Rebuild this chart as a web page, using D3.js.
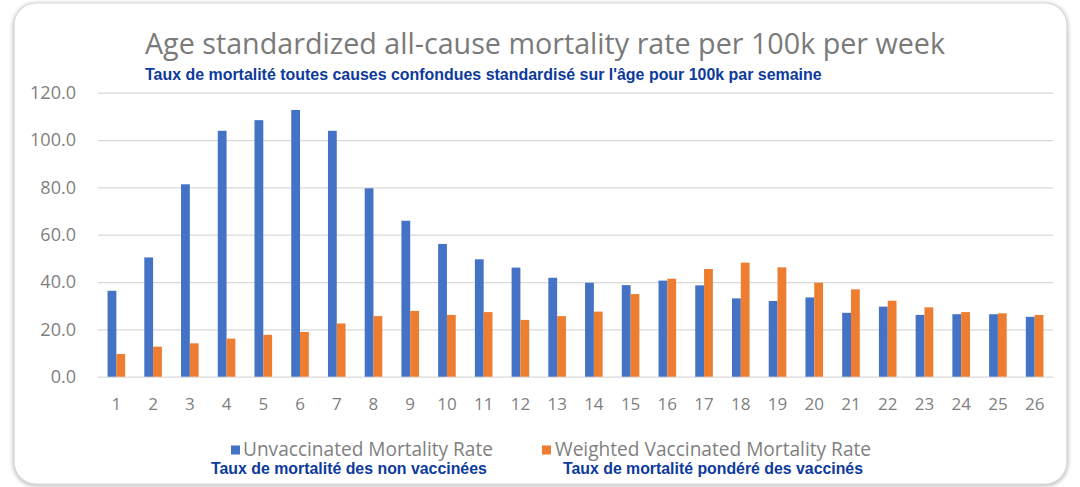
<!DOCTYPE html>
<html>
<head>
<meta charset="utf-8">
<script src="https://cdn.jsdelivr.net/npm/d3@7/dist/d3.min.js"></script>
<style>
  html, body { margin: 0; padding: 0; background: #ffffff; }
  svg { display: block; }
</style>
</head>
<body>
<svg id="chart" width="1080" height="487"></svg>
<script>
// Weekly age-standardized all-cause mortality per 100k
const weeks = d3.range(1, 27).map(String);
const unvaccinated = [36.3, 50.4, 81.3, 103.9, 108.4, 112.7, 103.9, 79.6, 65.9, 56.1, 49.6, 46.1, 41.8,
                      39.7, 38.7, 40.6, 38.6, 33.1, 32.0, 33.5, 27.0, 29.6, 26.1, 26.4, 26.4, 25.3];
const vaccinated   = [9.6, 12.7, 14.1, 16.1, 17.7, 18.9, 22.5, 25.6, 27.8, 26.1, 27.3, 24.0, 25.6,
                      27.5, 34.9, 41.4, 45.5, 48.2, 46.2, 39.7, 36.9, 32.1, 29.3, 27.3, 26.8, 26.1];
const yTicks = [0, 20, 40, 60, 80, 100, 120];
const seriesNames = ["Unvaccinated Mortality Rate", "Weighted Vaccinated Mortality Rate"];
const seriesNamesFr = ["Taux de mortalité des non vaccinées", "Taux de mortalité pondéré des vaccinés"];
const titleText = "Age standardized all-cause mortality rate per 100k per week";
const subtitleText = "Taux de mortalité toutes causes confondues standardisé sur l'âge pour 100k par semaine";

const colors = ["#4472c4", "#ed7d31"];
const greyText = "#7f7f7f";
const navy = "#0d3a9c";
const sans = "'Open Sans', 'Liberation Sans', sans-serif";
const arial = "'Liberation Sans', Arial, sans-serif";

const svg = d3.select("#chart");

// card frame with soft shadow
const defs = svg.append("defs");
const f = defs.append("filter").attr("id", "shadow").attr("x", "-5%").attr("y", "-5%").attr("width", "110%").attr("height", "110%");
f.append("feGaussianBlur").attr("in", "SourceAlpha").attr("stdDeviation", 2);
f.append("feOffset").attr("dx", 0).attr("dy", 1).attr("result", "b");
f.append("feComponentTransfer").append("feFuncA").attr("type", "linear").attr("slope", 0.35);
const fm = f.append("feMerge");
fm.append("feMergeNode");
fm.append("feMergeNode").attr("in", "SourceGraphic");

svg.append("rect")
  .attr("x", 14).attr("y", 3).attr("width", 1053).attr("height", 481)
  .attr("rx", 22).attr("ry", 22)
  .attr("fill", "#ffffff").attr("stroke", "#d4d4d4").attr("stroke-width", 1.2)
  .attr("filter", "url(#shadow)");

const plot = { left: 98, right: 1053, top: 92.7, bottom: 376.7 };

const x = d3.scaleBand().domain(weeks).range([plot.left, plot.right]).paddingInner(0).paddingOuter(0);
const y = d3.scaleLinear().domain([0, 120]).range([plot.bottom, plot.top]);
const barW = 8.8;

// fit a text element to a target width by adjusting font size
function fitSize(sel, width) {
  const n = sel.node();
  const fs = parseFloat(sel.style("font-size"));
  return fs * width / n.getComputedTextLength();
}
function fit(sel, width) {
  sel.style("font-size", fitSize(sel, width).toFixed(2) + "px");
}

// gridlines + y labels
const yAxis = d3.axisLeft(y).tickValues(yTicks).tickSize(-(plot.right - plot.left)).tickPadding(22)
  .tickFormat(d3.format(".1f"));
const gy = svg.append("g").attr("transform", `translate(${plot.left},0)`).call(yAxis);
gy.select(".domain").remove();
gy.selectAll(".tick line").attr("stroke", "#d9d9d9").attr("stroke-width", 1.3);
const yLabels = gy.selectAll(".tick text").attr("fill", greyText)
  .style("font-family", sans).style("font-size", "15px");
const topLabel = gy.selectAll(".tick text").filter(d => d === 120);
const yFs = fitSize(topLabel, 46);
yLabels.style("font-size", yFs.toFixed(2) + "px");

// bars
const series = [unvaccinated, vaccinated];
series.forEach((vals, si) => {
  svg.append("g").selectAll("rect").data(vals).join("rect")
    .attr("x", (d, i) => x(weeks[i]) + x.bandwidth() / 2 - barW + si * barW)
    .attr("y", d => y(d))
    .attr("width", barW)
    .attr("height", d => y(0) - y(d))
    .attr("fill", colors[si]);
});

// x labels
const xAxis = d3.axisBottom(x).tickSize(0).tickPadding(21);
const gx = svg.append("g").attr("transform", `translate(0,${plot.bottom})`).call(xAxis);
gx.select(".domain").remove();
gx.selectAll(".tick text").attr("fill", greyText)
  .style("font-family", sans).style("font-size", "17px");

// title
const title = svg.append("text").attr("x", 545).attr("y", 54).attr("text-anchor", "middle")
  .attr("fill", "#7a7a7a")
  .style("font-family", sans).style("font-size", "26px")
  .text(titleText);
fit(title, 800);

const sub = svg.append("text").attr("x", 145).attr("y", 80)
  .attr("fill", navy).style("font-weight", "bold")
  .style("font-family", arial).style("font-size", "14px")
  .text(subtitleText);
fit(sub, 677);

// legend
const legend = [
  { sq: 231, tx: 243, tw: 250, fx: 211, fw: 276 },
  { sq: 542, tx: 555, tw: 316, fx: 563, fw: 300 }
];
legend.forEach((L, i) => {
  svg.append("rect").attr("x", L.sq).attr("y", 445.5).attr("width", 9).attr("height", 9).attr("fill", colors[i]);
  const t = svg.append("text").attr("x", L.tx).attr("y", 455.5).attr("fill", greyText)
    .style("font-family", sans).style("font-size", "15px")
    .text(seriesNames[i]);
  fit(t, L.tw);
  const tf = svg.append("text").attr("x", L.fx).attr("y", 474.3).attr("fill", navy).style("font-weight", "bold")
    .style("font-family", arial).style("font-size", "14px")
    .text(seriesNamesFr[i]);
  fit(tf, L.fw);
});
</script>
</body>
</html>
